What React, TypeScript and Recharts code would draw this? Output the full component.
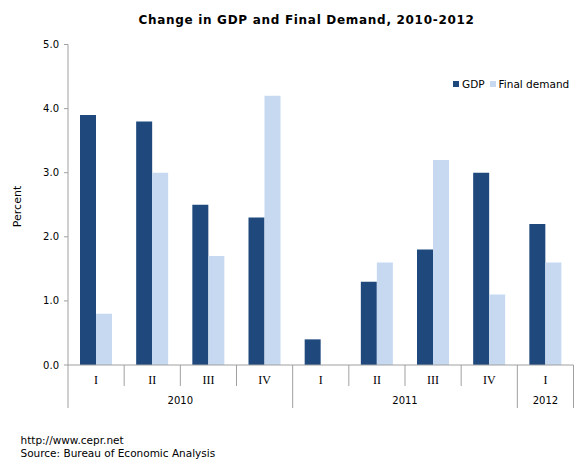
import React from 'react';
import { BarChart, Bar, XAxis, YAxis, Legend } from 'recharts';

const quarters = ['I', 'II', 'III', 'IV', 'I', 'II', 'III', 'IV', 'I'];
const years = ['2010', '2010', '2010', '2010', '2011', '2011', '2011', '2011', '2012'];
const gdp = [3.9, 3.8, 2.5, 2.3, 0.4, 1.3, 1.8, 3.0, 2.2];
const finalDemand = [0.8, 3.0, 1.7, 4.2, 0.0, 1.6, 3.2, 1.1, 1.6];
const yTicks = [0, 1, 2, 3, 4, 5];

const data = quarters.map((q, i) => ({
  key: `${years[i]}-${q}`,
  quarter: q,
  year: years[i],
  gdp: gdp[i],
  finalDemand: finalDemand[i],
}));

const W = 582;
const H = 465;
const AXIS_W = 68;
const RIGHT = 8.5;
const LEGEND_H = 14;
const PLOT_TOP = 44.5;
const band = (W - AXIS_W - RIGHT) / quarters.length;

const GDP_COLOR = '#1F497D';
const FD_COLOR = '#C6D9F1';
const AXIS_COLOR = '#A0A0A0';
const SANS = '"DejaVu Sans", Verdana, sans-serif';

function QuarterTick(props: any) {
  const { x, y, index } = props;
  const half = band / 2;
  const i = index;
  const isYearEnd = i === years.length - 1 || years[i + 1] !== years[i];
  const isYearStart = i === 0 || years[i - 1] !== years[i];
  let yearLabel = null;
  if (isYearStart) {
    let n = 0;
    while (i + n < years.length && years[i + n] === years[i]) n++;
    const cx = x - half + (n * band) / 2;
    yearLabel = (
      <text x={cx} y={y + 35} textAnchor="middle" dominantBaseline="central" fontFamily={SANS} fontSize={10} fill="#000">
        {years[i]}
      </text>
    );
  }
  return (
    <g>
      <text x={x} y={y + 15} textAnchor="middle" dominantBaseline="central" fontFamily='"Liberation Serif", serif' fontSize={12} fill="#000">
        {quarters[i]}
      </text>
      {i === 0 && <line x1={x - half} x2={x - half} y1={y} y2={y + 43} stroke={AXIS_COLOR} />}
      <line x1={x + half} x2={x + half} y1={y} y2={y + (isYearEnd ? 43 : 21)} stroke={AXIS_COLOR} />
      {yearLabel}
    </g>
  );
}

function LegendContent() {
  const item = (color: string, label: string) => (
    <span style={{ display: 'inline-flex', alignItems: 'center', marginRight: 5 }}>
      <span style={{ width: 6, height: 6, background: color, display: 'inline-block', marginRight: 3 }} />
      <span>{label}</span>
    </span>
  );
  return (
    <div style={{ height: LEGEND_H, display: 'flex', alignItems: 'center', fontFamily: SANS, fontSize: 10.5, color: '#000', whiteSpace: 'nowrap' }}>
      {item(GDP_COLOR, 'GDP')}
      {item(FD_COLOR, 'Final demand')}
    </div>
  );
}

export default function App() {
  return (
    <div style={{ position: 'absolute', left: 0, top: 0, width: W, height: H, background: '#fff' }}>
      <BarChart
        width={W}
        height={H}
        data={data}
        margin={{ top: PLOT_TOP - LEGEND_H, right: RIGHT, left: 0, bottom: 55 }}
        barGap={0}
      >
        <text
          x={306.5}
          y={20}
          textAnchor="middle"
          dominantBaseline="central"
          fontFamily={SANS}
          fontWeight="bold"
          fontSize={12}
          letterSpacing={0.7}
          fill="#000"
        >
          Change in GDP and Final Demand, 2010-2012
        </text>
        <text
          x={17}
          y={206.5}
          transform="rotate(-90 17 206.5)"
          textAnchor="middle"
          dominantBaseline="central"
          fontFamily={SANS}
          fontSize={11}
          fill="#000"
        >
          Percent
        </text>
        <text x={20.5} y={440} dominantBaseline="central" fontFamily={SANS} fontSize={10.5} fill="#000">
          http://www.cepr.net
        </text>
        <text x={20.5} y={452.5} dominantBaseline="central" fontFamily={SANS} fontSize={10.5} fill="#000">
          Source: Bureau of Economic Analysis
        </text>
        <XAxis
          dataKey="key"
          height={45}
          interval={0}
          tickLine={false}
          tickSize={0}
          tickMargin={0}
          axisLine={{ stroke: AXIS_COLOR }}
          tick={<QuarterTick />}
        />
        <YAxis
          width={AXIS_W}
          domain={[0, 5]}
          ticks={yTicks}
          interval={0}
          tickFormatter={(v: number) => v.toFixed(1)}
          tickSize={4}
          tickMargin={5}
          axisLine={{ stroke: AXIS_COLOR }}
          tickLine={{ stroke: AXIS_COLOR }}
          tick={{ fill: '#000', fontFamily: SANS, fontSize: 10 }}
        />
        <Legend
          verticalAlign="top"
          align="right"
          content={<LegendContent />}
          wrapperStyle={{ top: 77, left: 453, width: 129, height: LEGEND_H }}
        />
        <Bar dataKey="gdp" name="GDP" fill={GDP_COLOR} barSize={16} isAnimationActive={false} />
        <Bar dataKey="finalDemand" name="Final demand" fill={FD_COLOR} barSize={16} isAnimationActive={false} />
      </BarChart>
    </div>
  );
}
